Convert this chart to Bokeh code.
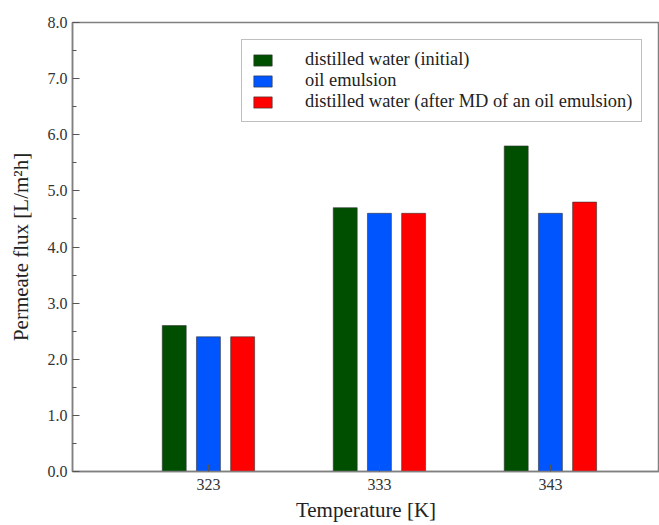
from bokeh.plotting import figure
from bokeh.models import ColumnDataSource, FixedTicker, Range1d, Legend, LegendItem, NumeralTickFormatter
from bokeh.transform import dodge
from bokeh.embed import file_html
from bokeh.resources import INLINE

temperatures = ["323", "333", "343"]
distilled_initial = [2.6, 4.7, 5.8]
oil_emulsion = [2.4, 4.6, 4.6]
distilled_after = [2.4, 4.6, 4.8]
series_names = ["distilled water (initial)", "oil emulsion",
                "distilled water (after MD of an oil emulsion)"]
colors = ["#004f00", "#0055ff", "#ff0000"]

pos = list(range(len(temperatures)))
source = ColumnDataSource(dict(x=pos, a=distilled_initial, b=oil_emulsion, c=distilled_after))

FONT = "Liberation Serif"
p = figure(width=659, height=525, output_backend="svg", toolbar_location=None,
           x_range=Range1d(-0.795, 2.638), y_range=Range1d(0, 8),
           min_border_left=72, min_border_top=22, min_border_right=0, min_border_bottom=54)

renderers = []
for key, off, col in zip(["a", "b", "c"], [-0.2, 0.0, 0.2], colors):
    r = p.vbar(x=dodge("x", off), top=key, width=0.14, source=source,
               fill_color=col, line_color="#333333", line_width=0.6)
    renderers.append(r)

p.xgrid.visible = False
p.ygrid.visible = False
p.outline_line_color = "#808080"
p.outline_line_width = 1.5
p.background_fill_color = "white"
p.border_fill_color = "white"

p.xaxis.ticker = FixedTicker(ticks=pos)
p.xaxis.major_label_overrides = {i: t for i, t in enumerate(temperatures)}
p.yaxis.ticker = FixedTicker(ticks=[0, 1, 2, 3, 4, 5, 6, 7, 8],
                             minor_ticks=[0.5, 1.5, 2.5, 3.5, 4.5, 5.5, 6.5, 7.5])
p.yaxis.formatter = NumeralTickFormatter(format="0.0")

for ax in (p.xaxis, p.yaxis):
    ax.axis_line_color = "#808080"
    ax.axis_line_width = 1.5
    ax.major_tick_line_color = "#555555"
    ax.minor_tick_line_color = "#555555"
    ax.major_tick_out = 0
    ax.major_tick_in = 7
    ax.minor_tick_out = 0
    ax.minor_tick_in = 4
    ax.major_label_text_font = FONT
    ax.major_label_text_font_size = "16px"
    ax.major_label_text_color = "#333333"
    ax.axis_label_text_font = FONT
    ax.axis_label_text_font_size = "21px"
    ax.axis_label_text_font_style = "normal"
    ax.axis_label_text_color = "#222222"
p.xaxis.minor_tick_in = 0
p.xaxis.major_label_standoff = 7
p.yaxis.major_label_standoff = 5
p.xaxis.axis_label = "Temperature [K]"
p.yaxis.axis_label = "Permeate flux [L/m\u00b2h]"
p.xaxis.axis_label_standoff = 5
p.yaxis.axis_label_standoff = 12

legend = Legend(items=[LegendItem(label=n, renderers=[r]) for n, r in zip(series_names, renderers)],
                location=(169, 349), label_text_font=FONT, label_text_font_size="18.4px",
                label_text_color="#222222", glyph_width=23, glyph_height=14,
                label_height=14, spacing=0, padding=9, label_standoff=31,
                border_line_color="#808080", border_line_width=1.2,
                background_fill_color="white", background_fill_alpha=1.0)
p.add_layout(legend)

open("out.html", "w").write(file_html(p, INLINE))
